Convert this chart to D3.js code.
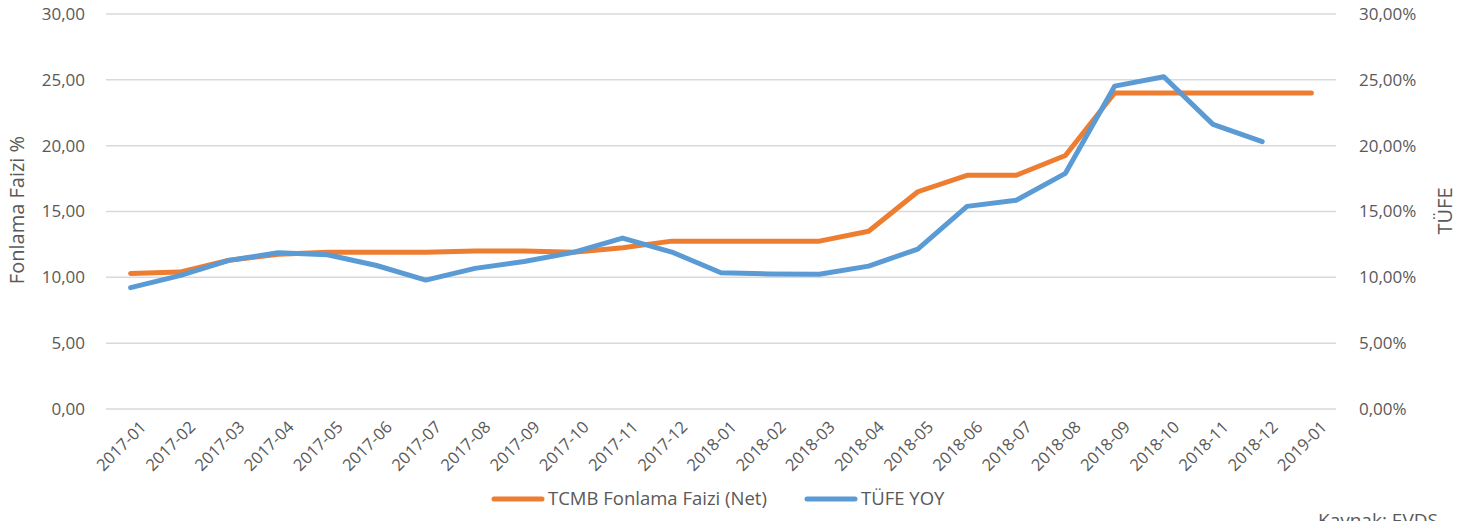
<!DOCTYPE html>
<html>
<head>
<meta charset="utf-8">
<script src="https://cdn.jsdelivr.net/npm/d3@7"></script>
<style>
  body { margin: 0; background: #fff; }
  svg text { font-family: "Open Sans", "Liberation Sans", sans-serif; fill: #595959; }
</style>
</head>
<body>
<div id="chart"></div>
<script>
var months = ["2017-01","2017-02","2017-03","2017-04","2017-05","2017-06","2017-07","2017-08",
  "2017-09","2017-10","2017-11","2017-12","2018-01","2018-02","2018-03","2018-04","2018-05",
  "2018-06","2018-07","2018-08","2018-09","2018-10","2018-11","2018-12","2019-01"];

// TCMB Fonlama Faizi (Net), left axis
var fonlama = [10.30, 10.40, 11.30, 11.75, 11.90, 11.90, 11.90, 12.00, 12.00, 11.90, 12.25, 12.75,
  12.75, 12.75, 12.75, 13.50, 16.50, 17.75, 17.75, 19.25, 24.00, 24.00, 24.00, 24.00, 24.00];

// TÜFE YOY, right axis (no value for 2019-01)
var tufe = [9.22, 10.13, 11.29, 11.87, 11.72, 10.90, 9.79, 10.68, 11.20, 11.90, 12.98, 11.92,
  10.35, 10.26, 10.23, 10.85, 12.15, 15.39, 15.85, 17.90, 24.52, 25.24, 21.62, 20.30, null];

var yTicks = [0, 5, 10, 15, 20, 25, 30];

var width = 1467, height = 521;
var margin = {top: 14, right: 131, bottom: 112, left: 106};

var svg = d3.select("#chart").append("svg")
    .attr("width", width)
    .attr("height", height);

var x = d3.scalePoint()
    .domain(months)
    .range([margin.left, width - margin.right])
    .padding(0.5);

var yLeft = d3.scaleLinear().domain([0, 30]).range([height - margin.bottom, margin.top]);
var yRight = d3.scaleLinear().domain([0, 30]).range([height - margin.bottom, margin.top]);

var comma = d3.formatLocale({decimal: ",", thousands: ".", grouping: [3], currency: ["", ""]});
var fmt = comma.format(".2f");

// grid
svg.append("g")
  .selectAll("line")
  .data(yTicks)
  .enter().append("line")
    .attr("x1", margin.left)
    .attr("x2", width - margin.right)
    .attr("y1", function(d) { return yLeft(d); })
    .attr("y2", function(d) { return yLeft(d); })
    .attr("stroke", "#d9d9d9")
    .attr("stroke-width", 1.5);

// left axis
var gl = svg.append("g")
    .attr("transform", "translate(" + (margin.left - 18) + ",0)")
    .call(d3.axisLeft(yLeft).tickValues(yTicks).tickSize(0).tickFormat(fmt));
gl.select(".domain").remove();
gl.selectAll("text").style("font-size", "17px");

// right axis
var gr = svg.append("g")
    .attr("transform", "translate(" + (width - margin.right + 20) + ",0)")
    .call(d3.axisRight(yRight).tickValues(yTicks).tickSize(0).tickFormat(function(d) { return fmt(d) + "%"; }));
gr.select(".domain").remove();
gr.selectAll("text").style("font-size", "17px");

// x axis
var gx = svg.append("g")
    .attr("transform", "translate(0," + (height - margin.bottom + 10) + ")")
    .call(d3.axisBottom(x).tickSize(0));
gx.select(".domain").remove();
gx.selectAll("text")
    .style("font-size", "16.5px")
    .style("text-anchor", "end")
    .attr("dx", "0.3em")
    .attr("dy", "0.9em")
    .attr("transform", "rotate(-45)");

// axis titles
svg.append("text")
    .attr("transform", "translate(24," + 210 + ") rotate(-90)")
    .attr("text-anchor", "middle")
    .style("font-size", "20px")
    .text("Fonlama Faizi %");

svg.append("text")
    .attr("transform", "translate(1452," + 211 + ") rotate(-90)")
    .attr("text-anchor", "middle")
    .style("font-size", "20px")
    .text("TÜFE");

// lines
var lineLeft = d3.line()
    .defined(function(d) { return d != null; })
    .x(function(d, i) { return x(months[i]); })
    .y(function(d) { return yLeft(d); });

var lineRight = d3.line()
    .defined(function(d) { return d != null; })
    .x(function(d, i) { return x(months[i]); })
    .y(function(d) { return yRight(d); });

svg.append("path")
    .datum(fonlama)
    .attr("fill", "none")
    .attr("stroke", "#ED7D31")
    .attr("stroke-width", 5)
    .attr("stroke-linecap", "round")
    .attr("stroke-linejoin", "round")
    .attr("d", lineLeft);

svg.append("path")
    .datum(tufe)
    .attr("fill", "none")
    .attr("stroke", "#5B9BD5")
    .attr("stroke-width", 5)
    .attr("stroke-linecap", "round")
    .attr("stroke-linejoin", "round")
    .attr("d", lineRight);

// legend
var legend = [
  {name: "TCMB Fonlama Faizi (Net)", color: "#ED7D31", x: 494},
  {name: "TÜFE YOY", color: "#5B9BD5", x: 807}
];
var lg = svg.append("g").selectAll("g")
    .data(legend)
    .enter().append("g")
    .attr("transform", function(d) { return "translate(" + d.x + ",499)"; });
lg.append("line")
    .attr("x1", 0).attr("x2", 48)
    .attr("stroke", function(d) { return d.color; })
    .attr("stroke-width", 5)
    .attr("stroke-linecap", "round");
lg.append("text")
    .attr("x", 54)
    .attr("dy", "0.35em")
    .style("font-size", "18.5px")
    .text(function(d) { return d.name; });

svg.append("text")
    .attr("x", 1318)
    .attr("y", 527)
    .style("font-size", "19px")
    .text("Kaynak: EVDS");
</script>
</body>
</html>
